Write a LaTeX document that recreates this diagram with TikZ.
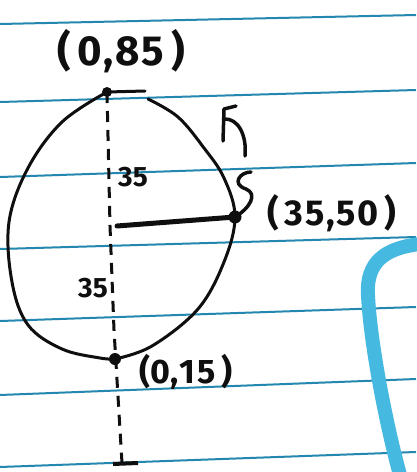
\documentclass[tikz,border=0pt]{standalone}
\usepackage{fontspec}
\setmainfont{Fira Sans}
\definecolor{rule}{RGB}{35,135,175}
\definecolor{marker}{RGB}{70,185,225}
\definecolor{ink}{RGB}{15,15,15}
\begin{document}
\begin{tikzpicture}[x=1pt,y=-1pt,
  ruleline/.style={rule,line width=2pt},
  inkline/.style={ink,line width=3pt,line cap=round,line join=round},
  dotnode/.style={circle,fill=ink,inner sep=0pt,minimum size=#1},
  lbl/.style={ink,inner sep=0pt,font=\fontsize{#1}{#1}\selectfont\bfseries}]
\useasboundingbox (0,0) rectangle (416,472);
\fill[white] (0,0) rectangle (416,472);
% ruled paper lines
\draw[ruleline] (0,24) -- (416,15);
\draw[ruleline] (0,102) -- (416,90);
\draw[ruleline] (0,177) -- (416,163);
\draw[ruleline] (0,249) -- (416,237);
\draw[ruleline] (0,321) -- (416,307);
\draw[ruleline] (0,395) -- (416,379);
\draw[ruleline] (0,467) -- (416,452);
% blue marker stroke
\draw[marker,line width=14pt,line cap=round] (420,244) .. controls (385,248) and (366,262) .. (368,295) .. controls (370,340) and (385,420) .. (400,475);
% points
\node[dotnode=10pt] (top) at (107,92) {};
\node[dotnode=13pt] (rgt) at (235,217) {};
\node[dotnode=12pt] (bot) at (115,359) {};
\coordinate (ctr) at (117,226);
\coordinate (low) at (122,463);
% closed curve
\draw[inkline] plot[smooth,tension=0.6] coordinates {(107,92) (62,122) (28,168) (9,222) (12,282) (28,325) (62,349) (100,358) (115,359)};
\draw[inkline] plot[smooth,tension=0.6] coordinates {(115,359) (152,346) (198,309) (224,262) (235,217) (224,178) (204,148) (178,117) (148,99)};
\draw[inkline] (top.center) -- (145,91);
% dashed axis
\draw[ink,line width=3pt,dash pattern=on 11pt off 8pt] (top.center) -- (110,226) -- (114,330) -- (low);
\draw[ink,line width=4pt] (113,464) -- (138,463);
% radius
\draw[ink,line width=5pt,line cap=round] (ctr) -- (rgt.center);
% squiggle and hook
\draw[inkline,line width=3.5pt] (251,172) .. controls (240,172) and (231,184) .. (246,189) .. controls (258,194) and (250,208) .. (rgt.center);
\draw[inkline,line width=3.5pt] (223,141) -- (224,109) -- (236,106);
\draw[inkline,line width=3.5pt] (224,119) .. controls (238,118) and (247,135) .. (245,156);
% labels
\node[lbl=42] (t1) at (121,51) {(\,0\kern1pt,\kern2pt8\kern2pt5\,)};
\node[lbl=36] (t2) at (332,213) {(\,3\kern2pt5\kern1pt,\kern2pt5\kern2pt0\,)};
\node[lbl=34] (t3) at (186,372) {(0,\kern1pt1\kern2pt5\,)};
\node[lbl=28] (t4) at (133,177) {35};
\node[lbl=28] (t5) at (93,288) {35};
\end{tikzpicture}
\end{document}
